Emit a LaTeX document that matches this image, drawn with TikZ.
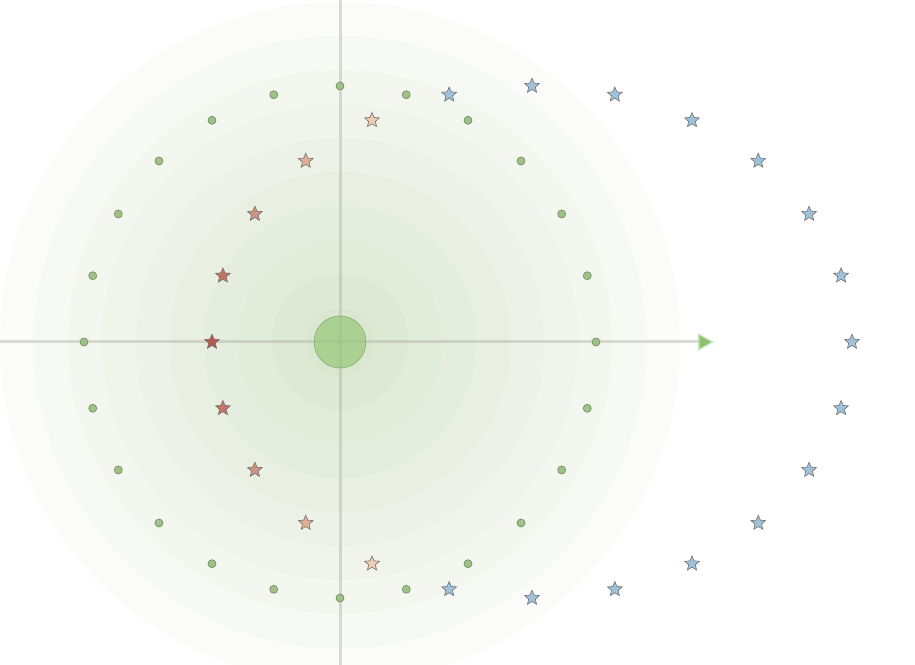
\documentclass[tikz,border=0pt]{standalone}
\usepackage{tikz}
\usepackage{xcolor}
\usetikzlibrary{shapes.geometric, arrows.meta, positioning}

\definecolor{ringpale}{RGB}{251,251,249}
\definecolor{ringdeep}{RGB}{218,231,208}
\definecolor{dotfill}{RGB}{160,193,135}
\definecolor{dotline}{RGB}{115,145,100}
\definecolor{hubgreen}{RGB}{150,200,120}
\definecolor{axisgray}{RGB}{175,177,170}
\definecolor{tipgreen}{RGB}{140,192,110}
\definecolor{starblue}{RGB}{158,194,218}
\definecolor{starred}{RGB}{180,88,76}
\definecolor{starpeach}{RGB}{238,204,174}

\begin{document}
\begin{tikzpicture}[x=0.02cm, y=0.02cm,
    dot/.style={draw=dotline, fill=dotfill, circle, inner sep=0pt, minimum size=0.16cm},
    pt/.style={draw=black!55, line width=0.35pt, star, star points=5, star point ratio=2.2, inner sep=0pt, minimum size=0.31cm},
    axis/.style={draw=axisgray, draw opacity=0.45, line width=0.06cm}]
    \useasboundingbox (-340,-323) rectangle (575,342);
    % shaded rings
    \foreach \k in {10,...,1} {
        \pgfmathtruncatemacro\p{(10-\k)*11}
        \fill[ringdeep!\p!ringpale] (0,0) circle (34*\k);
    }
    \coordinate (west) at (-340,0); \coordinate (east) at (374,0);
    \coordinate (north) at (0,342); \coordinate (south) at (0,-323);
    \draw[axis, -{Triangle[length=0.32cm, width=0.34cm, color=tipgreen]}] (west) -- (east);
    \draw[axis] (south) -- (north);
    \node [draw=hubgreen!75!black, fill=hubgreen, fill opacity=0.7, draw opacity=0.6, circle, inner sep=0pt, minimum size=1.04cm] (O) at (0,0) {};
    % points on the circle
    \foreach \a [count=\i] in {0,15,...,345}
        \node [dot] (d\i) at (\a:256) {};
    % points on the ellipse
    \foreach \a [count=\i] in {-105,-90,...,105}
        \node [pt, fill=starblue] (b\i) at ({192+320*cos(\a)},{256*sin(\a)}) {};
    \foreach \a [count=\i] in {120,135,...,240} {
        \pgfmathtruncatemacro\t{abs(\a-180)/60*100}
        \node [pt, fill=starpeach!\t!starred] (r\i) at ({192+320*cos(\a)},{256*sin(\a)}) {};
    }
\end{tikzpicture}
\end{document}
